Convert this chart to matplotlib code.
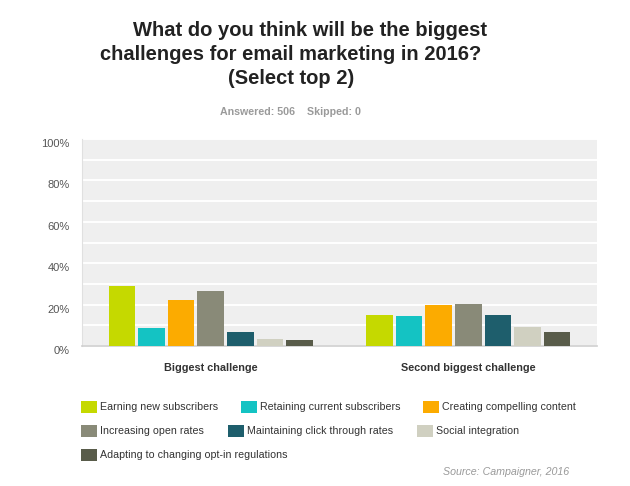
"""Email marketing challenges 2016 - grouped bar chart."""

import matplotlib
matplotlib.use("Agg")
import matplotlib.pyplot as plt
from matplotlib.patches import Rectangle
from matplotlib.transforms import ScaledTranslation
import numpy as np

plt.rcParams["font.family"] = ["Liberation Sans", "DejaVu Sans"]

# Data
groups = ["Biggest challenge", "Second biggest challenge"]
series = [
    "Earning new subscribers",
    "Retaining current subscribers",
    "Creating compelling content",
    "Increasing open rates",
    "Maintaining click through rates",
    "Social integration",
    "Adapting to changing opt-in regulations",
]
biggest = [29.0, 8.7, 22.0, 26.4, 6.8, 3.4, 2.8]
second = [15.1, 14.6, 19.7, 20.2, 15.1, 9.1, 6.7]
colors = ["#c5d900", "#14c3c3", "#fcab00", "#898a78", "#1e5e6c", "#d0d0c1", "#595c4a"]
yticks = [0, 20, 40, 60, 80, 100]

W, H = 630, 486
fig = plt.figure(figsize=(W / 100, H / 100), dpi=100)
fig.patch.set_facecolor("white")


def fx(px):
    return px / W


def fy(py):
    return 1 - py / H


# Axes placed in pixel terms
ax = fig.add_axes([fx(82), fy(346), fx(597) - fx(82), fy(139) - fy(346)])
ax.set_facecolor("#efefef")

values = np.array([biggest, second])
centers = np.array([0.5, 1.5])
step = 0.115
width = 0.103
n = len(series)
for i in range(n):
    offs = (i - (n - 1) / 2) * step
    ax.bar(centers + offs, values[:, i], width=width, color=colors[i], zorder=3)

ax.set_xlim(0, 2)
ax.set_ylim(0, 100)
ax.set_yticks(yticks)
ax.set_yticks(range(10, 100, 20), minor=True)
ax.set_yticklabels([f"{v}%" for v in yticks], fontsize=8, color="#555555")
ax.tick_params(axis="y", which="both", length=0, pad=9)
ax.set_xticks(centers)
ax.set_xticklabels(groups, fontsize=7.8, fontweight="bold", color="#333333")
ax.tick_params(axis="x", length=0, pad=12)
ax.grid(axis="y", which="both", color="white", linewidth=1.4, zorder=1)
for lab in ax.get_yticklabels():
    lab.set_transform(lab.get_transform() + ScaledTranslation(0, -4 / 100, fig.dpi_scale_trans))

for side in ["top", "right"]:
    ax.spines[side].set_visible(False)
ax.spines["left"].set_color("#e0e0e0")
ax.spines["bottom"].set_color("#cfcfcf")
ax.spines["bottom"].set_linewidth(1.2)

# Title lines
title_kw = dict(ha="center", va="center", fontsize=14.5, fontweight="bold", color="#222222")
fig.text(fx(310), fy(31), "What do you think will be the biggest", **title_kw)
fig.text(fx(291), fy(55), "challenges for email marketing in 2016?", **title_kw)
fig.text(fx(291), fy(79), "(Select top 2)", **title_kw)
fig.text(fx(291), fy(112), "Answered: 506    Skipped: 0", ha="center", va="center",
         fontsize=7.7, fontweight="bold", color="#9a9a9a")

# Legend laid out like the original flow layout
legend_pos = [
    (81, 407), (241, 407), (423, 407),
    (81, 431), (228, 431), (417, 431),
    (81, 455),
]
for (px, py), name, col in zip(legend_pos, series, colors):
    fig.patches.append(Rectangle((fx(px), fy(py + 6)), 16 / W, 12 / H, facecolor=col,
                                 edgecolor="none", transform=fig.transFigure, figure=fig))
    fig.text(fx(px + 19), fy(py), name, ha="left", va="center", fontsize=7.7, color="#333333")

fig.text(fx(569), fy(472), "Source: Campaigner, 2016", ha="right", va="center",
         fontsize=7.7, style="italic", color="#9a9a9a")

fig.savefig("out.png", dpi=100)
